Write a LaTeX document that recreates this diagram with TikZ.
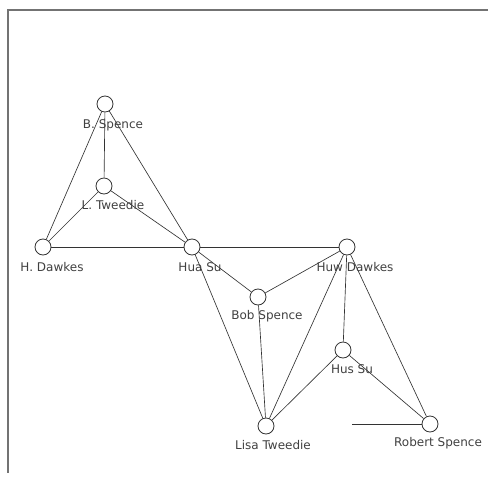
\documentclass[tikz,border=0pt]{standalone}
\usepackage{fontspec}
\setmainfont{DejaVu Sans}
\begin{document}
\begin{tikzpicture}[x=1pt,y=-1pt,
  person/.style={circle,draw=black!80,fill=white,line width=0.8pt,minimum size=16pt,inner sep=0pt},
  pname/.style={text=black!75,font=\fontsize{12}{14}\selectfont,inner sep=0pt,anchor=center},
  tie/.style={draw=black!80,line width=0.65pt},
  frameline/.style={draw=black!55,line width=1.4pt}]
\useasboundingbox (0,0) rectangle (488,477);
\coordinate (ftl) at (8,10);
\coordinate (ftr) at (488,10);
\coordinate (fbl) at (8,473);
\draw[frameline] (ftr) -- (ftl) -- (fbl);
% nodes
\node[person] (bs) at (105,104) {};
\node[person] (lt) at (104,186) {};
\node[person] (hd) at (43,247) {};
\node[person] (hs) at (192,247) {};
\node[person] (hwd) at (347,247) {};
\node[person] (bob) at (258,297) {};
\node[person] (hus) at (343,350) {};
\node[person] (lisa) at (266,426) {};
\node[person] (rs) at (430,424) {};
\coordinate (rsend) at (352,424);
% edges
\draw[tie] (bs) -- (lt);
\draw[tie] (bs) -- (hd);
\draw[tie] (bs) -- (hs);
\draw[tie] (lt) -- (hd);
\draw[tie] (lt) -- (hs);
\draw[tie] (hd) -- (hs);
\draw[tie] (hs) -- (hwd);
\draw[tie] (hs) -- (bob);
\draw[tie] (hs) -- (lisa);
\draw[tie] (bob) -- (hwd);
\draw[tie] (bob) -- (lisa);
\draw[tie] (hwd) -- (lisa);
\draw[tie] (hwd) -- (hus);
\draw[tie] (hwd) -- (rs);
\draw[tie] (hus) -- (lisa);
\draw[tie] (hus) -- (rs);
\draw[tie] (rs) -- (rsend);
% labels
\node[pname] (bsl) at (113,125) {B. Spence};
\node[pname] (ltl) at (113,205) {L. Tweedie};
\node[pname] (hdl) at (52,267) {H. Dawkes};
\node[pname] (hsl) at (200,267) {Hua Su};
\node[pname] (hwdl) at (355,267) {Huw Dawkes};
\node[pname] (bobl) at (267,316) {Bob Spence};
\node[pname] (husl) at (352,369) {Hus Su};
\node[pname] (lisal) at (273,445) {Lisa Tweedie};
\node[pname] (rsl) at (438,443) {Robert Spence};
\end{tikzpicture}
\end{document}
